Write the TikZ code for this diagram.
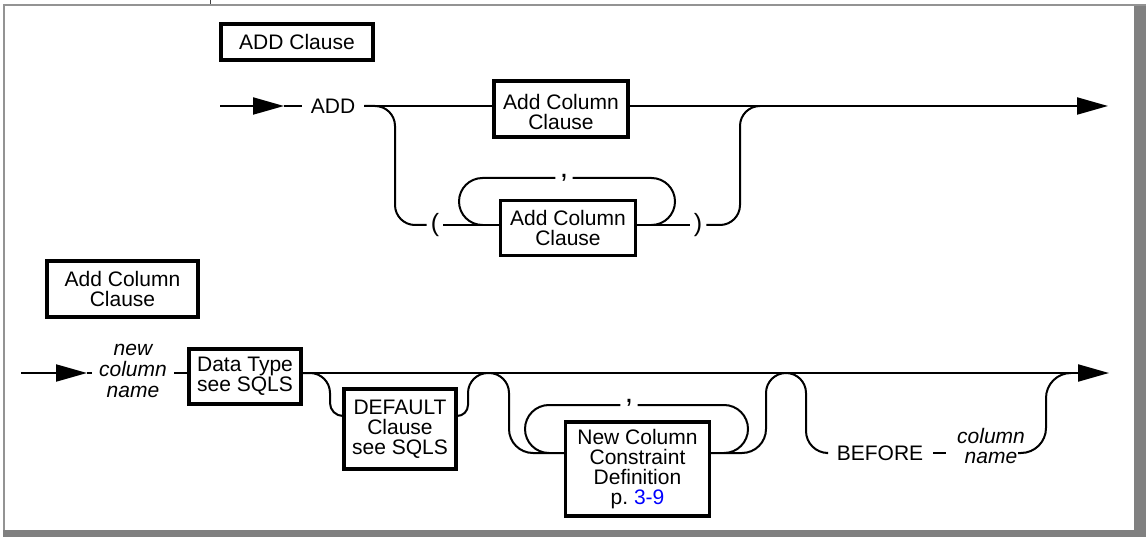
\documentclass[tikz,border=0pt]{standalone}
\usepackage{fontspec}
\setmainfont{Liberation Sans}
\usetikzlibrary{arrows.meta}
\definecolor{framelight}{HTML}{939393}
\definecolor{framedark}{HTML}{808080}
\definecolor{pagelink}{HTML}{0000FF}

\begin{document}
\begin{tikzpicture}[x=1pt,y=-1pt, font=\fontsize{21}{20}\selectfont,
  ln/.style={line width=2pt},
  rc/.style={ln, rounded corners=#1},
  arr/.style={ln, -{Triangle[length=31pt,width=17pt]}},
  box/.style 2 args={draw, line width=3.2pt, inner sep=0pt, align=center,
                     minimum width=#1, minimum height=#2},
  kw/.style={inner ysep=0pt, inner xsep=#1},
  ital/.style={font=\fontsize{21}{#1}\selectfont\itshape, align=center, inner ysep=0pt},
  paren/.style={font=\fontsize{25}{25}\selectfont, inner ysep=0pt, inner xsep=4pt},
  comma/.style={font=\fontsize{30}{30}\selectfont, anchor=base, text height=0pt,
                text depth=0pt, inner ysep=0pt, inner xsep=4.3pt},
]
\useasboundingbox (0,0) rectangle (1146,537);

% page frame
\fill[framelight] (3,4) rectangle (1146,6);
\fill[framelight] (3,4) rectangle (5,530);
\fill[framedark] (1134,6) rectangle (1146,537);
\fill[framedark] (3,530) rectangle (1146,537);
\draw[line width=1pt, black!75] (210,0) -- (210,4);

% track levels
\coordinate (r1)  at (0,106);
\coordinate (r1b) at (0,225);
\coordinate (r2)  at (0,373);
\coordinate (r2d) at (0,416);
\coordinate (r2b) at (0,453);

% ---------------- ADD Clause ----------------
\node[box={152pt}{36pt}] (addcl) at (297,42) {ADD Clause};
\coordinate (s1) at (220,106);
\coordinate (t1) at (284,106);
\node[kw=9pt] (add) at (333,106) {ADD};
\node[box={134pt}{56pt}] (addtop) at (561,109) {\rule{0pt}{21pt}Add Column\\Clause};
\node[paren] (lp) at (435,225) {(};
\node[box={135pt}{55pt}] (addlow) at (568,228) {Add Column\\Clause};
\node[paren] (rp) at (698,225) {)};
\node[comma] (c1) at (564,178) {,};
\coordinate (e1) at (1108,106);

\draw[arr] (s1) -- (t1);
\draw[ln] (t1) -- (add.west);
\draw[ln] (add.east) -- (addtop.west |- r1);
\draw[arr] (addtop.east |- r1) -- (e1);
\draw[rc=20pt] (add.east) -- (395,106) -- (395,225) -- (lp.west);
\draw[ln] (lp.east) -- (addlow.west |- r1b);
\draw[ln] (addlow.east |- r1b) -- (rp.west);
\draw[rc=20pt] (rp.east) -- (740,225) -- (740,106) -- (760,106);
\draw[rc=23.5pt] (482.5,225) -- (459,225) -- (459,178) -- (c1.west);
\draw[rc=23.5pt] (c1.east) -- (675,178) -- (675,225) -- (651.5,225);

% ---------------- Add Column Clause ----------------
\node[box={151pt}{56pt}] (acc) at (122.5,289) {Add Column\\Clause};
\coordinate (s2) at (21,373);
\coordinate (t2) at (87,373);
\node[ital=21pt, inner xsep=7pt] (ncn) at (133,370.5) {new\\column\\name};
\node[box={112pt}{55pt}] (dt) at (245,376.5) {Data Type\\see SQLS};
\node[box={112pt}{80pt}] (def) at (400,429) {DEFAULT\\Clause\\see SQLS};
\node[box={144pt}{94pt}] (con) at (637.5,469)
  {New Column\\Constraint\\Definition\\p.\ \textcolor{pagelink}{3-9}};
\node[comma] (c2) at (629,405) {\raisebox{3pt}{,}};
\node[kw=10pt] (bef) at (880,453) {BEFORE};
\node[ital=20pt, inner xsep=11pt] (cn) at (991,445.5) {column\\name};
\coordinate (cnend) at (1018,453);
\coordinate (e2) at (1109,373);

\draw[arr] (s2) -- (t2);
\draw[ln] (t2) -- (ncn.west |- r2);
\draw[ln] (ncn.east |- r2) -- (dt.west |- r2);
\draw[arr] (dt.east |- r2) -- (e2);

% optional DEFAULT clause
\draw[rc=20pt] (dt.east |- r2) -- (330,373) -- (330,395);
\draw[rc=13pt] (330,395) -- (330,416) -- (def.west |- r2d);
\draw[rc=11pt] (def.east |- r2d) -- (468,416) -- (468,395);
\draw[rc=20pt] (468,395) -- (468,373) -- (488.5,373);

% optional repeated constraint definitions
\draw[rc=20pt] (488.5,373) -- (509,373) -- (509,420);
\draw[rc=24pt] (509,420) -- (509,453) -- (con.west |- r2b);
\draw[rc=24pt] (549,453) -- (525,453) -- (525,405) -- (c2.west);
\draw[rc=24pt] (c2.east) -- (748,405) -- (748,453) -- (724,453);
\draw[rc=24pt] (con.east |- r2b) -- (766,453) -- (766,420);
\draw[rc=20pt] (766,420) -- (766,373) -- (786,373);

% optional BEFORE column name
\draw[rc=20pt] (786,373) -- (806,373) -- (806,420);
\draw[rc=22pt] (806,420) -- (806,453) -- (bef.west);
\draw[ln] (bef.east) -- (cn.west |- bef.east);
\draw[rc=25pt] (cnend) -- (1046,453) -- (1046,373) -- (1071,373);
\end{tikzpicture}
\end{document}
